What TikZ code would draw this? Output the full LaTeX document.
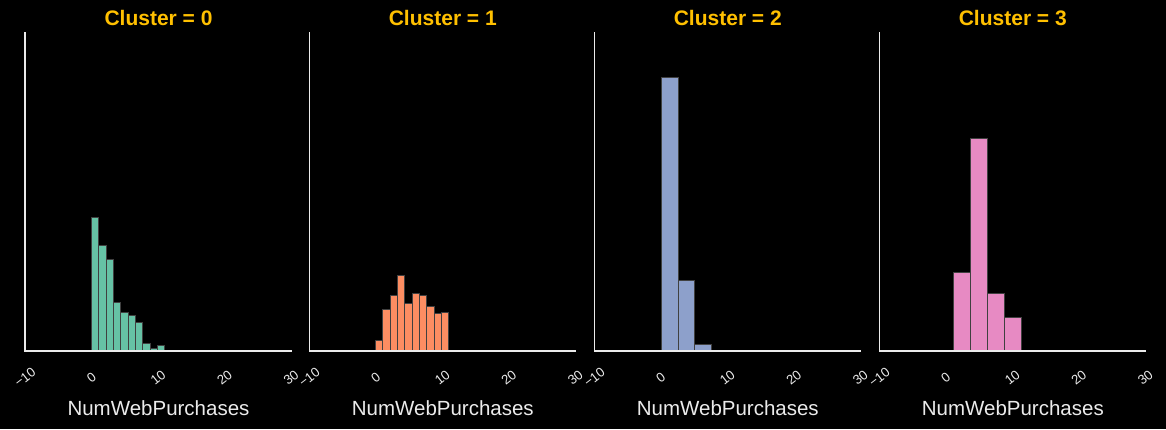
\documentclass[tikz,border=0pt]{standalone}
\usepackage{fontspec}
\setmainfont{Liberation Sans}
\usepackage{xcolor}
\usetikzlibrary{positioning}

\definecolor{setgreen}{HTML}{66C2A5}
\definecolor{setorange}{HTML}{FC8D62}
\definecolor{setblue}{HTML}{8DA0CB}
\definecolor{setpink}{HTML}{E78AC3}
\definecolor{titlegold}{HTML}{FFC000}
\definecolor{axisgray}{HTML}{EBEBEB}

\begin{document}
\begin{tikzpicture}[
    x=1pt,
    y=-1pt,
    line join=miter
]

\tikzstyle{axisline}=[
    draw=axisgray,
    line width=1.6pt
]
\tikzstyle{bin}=[
    draw=black!75,
    line width=0.8pt
]
\tikzstyle{paneltitle}=[
    anchor=base,
    text=titlegold,
    font=\fontsize{21}{24}\selectfont\bfseries,
    inner sep=0pt
]
\tikzstyle{axislabel}=[
    anchor=base,
    text=axisgray,
    font=\fontsize{20.5}{24}\selectfont,
    inner sep=0pt
]
\tikzstyle{ticklabel}=[
    anchor=center,
    rotate=38,
    text=axisgray,
    font=\fontsize{13.2}{15}\selectfont,
    inner sep=0pt
]

% background and page size
\fill[black] (0,0) rectangle (1166,429);
\useasboundingbox (0,0) rectangle (1166,429);

% bins of each cluster
\foreach \h [count=\i from 0] in {134,106,92,49,39,36,28.7,7.7,3,6}
    \draw[bin, fill=setgreen] ({91.5+\i*7.315},351) rectangle ++(7.315,-\h);
\foreach \h [count=\i from 0] in {10.3,42,55.3,76,47.3,57.3,55.3,45,37.3,38.3}
    \draw[bin, fill=setorange] ({375.5+\i*7.315},351) rectangle ++(7.315,-\h);
\foreach \h [count=\i from 0] in {273.7,71,7}
    \draw[bin, fill=setblue] ({661.8+\i*16.45},351) rectangle ++(16.45,-\h);
\foreach \h [count=\i from 0] in {79,213,57.3,34}
    \draw[bin, fill=setpink] ({953+\i*17.15},351) rectangle ++(17.15,-\h);

% axes, titles, ticks
\foreach \p/\xa in {0/25, 1/309.3, 2/594.3, 3/879.3} {
    \coordinate (top\p) at (\xa,32);
    \coordinate (origin\p) at (\xa,351);
    \coordinate (end\p) at ({\xa+267},351);
    \draw[axisline] (top\p) -- (origin\p) -- (end\p);

    \node[paneltitle] (title\p) at ({\xa+133.5},25) {Cluster = \p};
    \node[axislabel] (xlabel\p) at ({\xa+133.5},415) {NumWebPurchases};

    \node[ticklabel] (tick\p m) at (\xa,377.5) {\symbol{"2212}10};
    \foreach \v in {0,10,20,30}
        \node[ticklabel] (tick\p v\v) at ({\xa+(\v+10)*6.65},377.5) {\v};
}

\end{tikzpicture}
\end{document}
